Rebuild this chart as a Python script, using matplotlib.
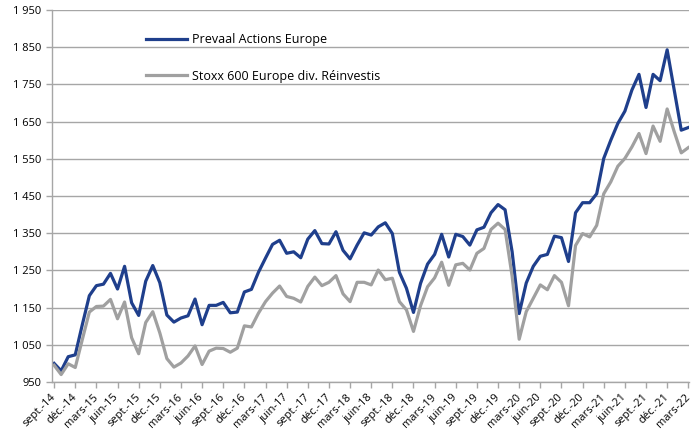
import matplotlib
matplotlib.use("Agg")
import matplotlib.pyplot as plt
from matplotlib.ticker import FuncFormatter

plt.rcParams['font.family'] = ['Open Sans', 'DejaVu Sans']

# month index 0 = sept.-14 ... 90 = mars-22
tick_labels = ["sept.-14", "déc.-14", "mars-15", "juin-15", "sept.-15", "déc.-15", "mars-16", "juin-16",
               "sept.-16", "déc.-16", "mars-17", "juin-17", "sept.-17", "déc.-17", "mars-18", "juin-18",
               "sept.-18", "déc.-18", "mars-19", "juin-19", "sept.-19", "déc.-19", "mars-20", "juin-20",
               "sept.-20", "déc.-20", "mars-21", "juin-21", "sept.-21", "déc.-21", "mars-22"]

prevaal = [1000, 980, 1018, 1023, 1104, 1182, 1209, 1213, 1242, 1200,
           1261, 1163, 1129, 1221, 1263, 1217, 1130, 1111, 1122, 1128,
           1173, 1104, 1156, 1156, 1164, 1136, 1138, 1192, 1199, 1245,
           1283, 1320, 1331, 1296, 1300, 1284, 1334, 1357, 1322, 1321,
           1354, 1304, 1281, 1318, 1351, 1345, 1367, 1378, 1349, 1245,
           1202, 1137, 1215, 1267, 1293, 1347, 1286, 1347, 1341, 1318,
           1359, 1366, 1405, 1427, 1413, 1300, 1134, 1216, 1261, 1288,
           1293, 1342, 1338, 1274, 1405, 1432, 1432, 1456, 1551, 1600,
           1645, 1678, 1735, 1777, 1688, 1777, 1760, 1843, 1735, 1627,
           1634]

stoxx = [995, 970, 999, 989, 1064, 1138, 1153, 1154, 1172, 1120,
         1165, 1069, 1026, 1110, 1139, 1082, 1013, 990, 1001, 1020,
         1047, 997, 1033, 1041, 1040, 1030, 1041, 1101, 1098, 1135,
         1166, 1189, 1208, 1180, 1175, 1165, 1207, 1232, 1209, 1218,
         1236, 1187, 1166, 1218, 1218, 1211, 1251, 1225, 1229, 1166,
         1144, 1086, 1155, 1206, 1230, 1272, 1210, 1265, 1269, 1251,
         1296, 1309, 1360, 1377, 1360, 1234, 1065, 1139, 1175, 1211,
         1198, 1236, 1218, 1155, 1317, 1349, 1340, 1371, 1456, 1488,
         1530, 1551, 1582, 1618, 1564, 1638, 1597, 1684, 1623, 1566,
         1580]

series_names = ["Prevaal Actions Europe", "Stoxx 600 Europe div. Réinvestis"]

fig = plt.figure(figsize=(6.91, 4.34), dpi=100)
ax = fig.add_axes([52/691, 1-382/434, (689-52)/691, (382-10)/434])

x = list(range(len(prevaal)))
ax.plot(x, prevaal, color="#1f3f8c", lw=2.3, label=series_names[0], solid_joinstyle='round')
ax.plot(x, stoxx, color="#a0a0a0", lw=2.3, label=series_names[1], solid_joinstyle='round')

ax.set_ylim(950, 1950)
ax.set_yticks(range(950, 1951, 100))
ax.yaxis.set_major_formatter(FuncFormatter(lambda v, p: f"{int(v):,}".replace(",", " ")))
ax.set_xlim(-0.3, 90.1)
ax.set_xticks(range(0, 91, 3))
ax.set_xticklabels(tick_labels, rotation=45, ha='right', va='center', rotation_mode='anchor')

ax.grid(axis='y', color='#a6a6a6', lw=1)
ax.set_axisbelow(True)
for s in ['top', 'right']:
    ax.spines[s].set_visible(False)
for s in ['left', 'bottom']:
    ax.spines[s].set_color('#a6a6a6')
    ax.spines[s].set_linewidth(1)
ax.tick_params(axis='both', colors='#a6a6a6', labelcolor='black', length=4, width=1, labelsize=8)
ax.tick_params(axis='x', pad=6)

leg = ax.legend(loc='upper left', bbox_to_anchor=(146/691, 1-33/434), bbox_transform=fig.transFigure,
                frameon=False, fontsize=9, handlelength=3.3, labelspacing=1.9, handletextpad=0.35,
                borderpad=0, borderaxespad=0)

fig.savefig("out.png", dpi=100)
